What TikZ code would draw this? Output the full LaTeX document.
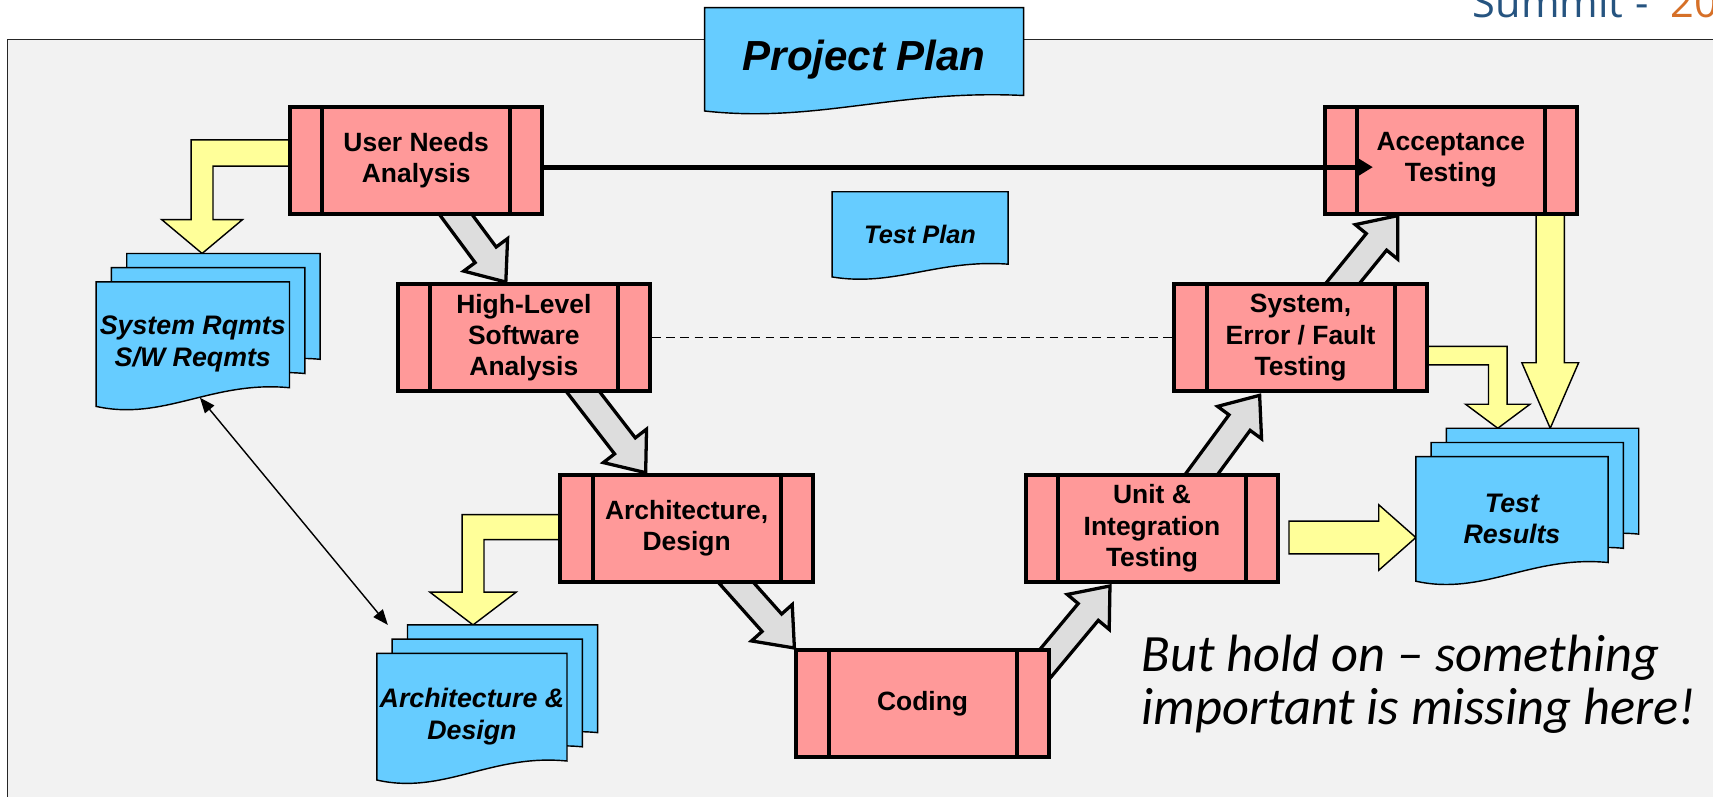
\documentclass[tikz,border=0pt]{standalone}
\usepackage{fontspec}
\setmainfont{Liberation Sans}
\newfontfamily\notefont{Carlito}
\newfontfamily\headfont{Open Sans}
\usetikzlibrary{calc,arrows.meta,backgrounds}

\definecolor{procred}{RGB}{255,153,153}
\definecolor{docblue}{RGB}{102,204,255}
\definecolor{fatyellow}{RGB}{255,255,153}
\definecolor{fatgray}{RGB}{221,221,221}
\definecolor{panelgray}{RGB}{242,242,242}
\definecolor{summitblue}{RGB}{38,84,128}
\definecolor{summitorange}{RGB}{214,112,40}

\tikzset{
	proc/.style={draw, line width=3.7pt, fill=procred, minimum width=231, minimum height=98,
		inner sep=2pt, align=center, font=\bfseries\fontsize{24.2}{28.5}\selectfont,
		path picture={\draw[line width=3.7pt]
			($(path picture bounding box.north west)+(29.5,0)$) -- ($(path picture bounding box.south west)+(29.5,0)$)
			($(path picture bounding box.north east)+(-29.5,0)$) -- ($(path picture bounding box.south east)+(-29.5,0)$);}},
	doctext/.style={inner sep=0, outer sep=0, align=center, font=\bfseries\itshape\fontsize{24.5}{29}\selectfont},
	docline/.style={draw=black, line width=1.3pt, fill=docblue},
	grayarrow/.style={draw=black, line width=3pt, fill=fatgray, line join=miter},
	yellowarrow/.style={draw=black, line width=1.3pt, fill=fatyellow, line join=miter}
}

% one sheet with a wavy bottom, shifted right/up behind the node
\newcommand{\docsheet}[3]{%
	\draw[docline] let \p1=($(#1.north west)+(#2,-#3)$), \p2=($(#1.south east)+(#2,-#3)$),
		\n1={\x2-\x1}, \n2={\y1-\y2} in
		(\x1,\y1) -- (\x2,\y1) -- (\x2,{\y2+0.15*\n2})
		.. controls ({\x1+0.6*\n1},{\y2+0.21*\n2}) and ({\x1+0.35*\n1},{\y2-0.12*\n2}) .. (\x1,\y2) -- cycle;}
\newcommand{\docstack}[1]{\docsheet{#1}{28}{26}\docsheet{#1}{14}{13}\docsheet{#1}{0}{0}}

% block arrow: tail, tip, half shaft, half head, head length
\newcommand{\fatarrow}[6][]{%
	\coordinate (tail) at (#2);
	\coordinate (tip) at (#3);
	\coordinate (neck) at ($(tip)!#6!(tail)$);
	\draw[#1] ($(tail)!#4!90:(tip)$) -- ($(neck)!#4!90:(tip)$) -- ($(neck)!#5!90:(tip)$)
		-- (tip) -- ($(neck)!#5!-90:(tip)$) -- ($(neck)!#4!-90:(tip)$) -- ($(tail)!#4!-90:(tip)$) -- cycle;}

\begin{document}
\begin{tikzpicture}[x=1pt, y=-1pt]
	\useasboundingbox (0,0) rectangle (1568,729);
	\begin{scope}[on background layer]
		\fill[white] (0,0) rectangle (1568,729);
		\draw[line width=1.5pt, draw=black!85, fill=panelgray] (7,36) rectangle (1600,760);
	\end{scope}
	
	\node[anchor=base west, inner sep=0, text=summitblue, font=\headfont\fontsize{38}{40}\selectfont] (summit) at (1348,16)
		{Summit\hspace{11pt}-\hspace{20pt}\textcolor{summitorange}{20}};
	
	% process steps
	\draw (381,146.5) node[proc] (una) {User Needs\\Analysis};
	\draw node[proc, right of=una, node distance=947] (acc) {Acceptance\\Testing};
	\draw (479.5,309) node[proc] (hlsa) {High-Level\\Software\\Analysis};
	\draw node[proc, right of=hlsa, node distance=711] (sys) {System,\\Error / Fault\\Testing};
	\draw (628.5,483.5) node[proc] (arch) {Architecture,\\Design};
	\draw node[proc, right of=arch, node distance=426] (unit) {Unit \&\\Integration\\Testing};
	\draw (844.5,644) node[proc] (coding) {Coding};
	
	% documents
	\node[doctext, minimum width=292, minimum height=94.6, font=\bfseries\itshape\fontsize{38.5}{44}\selectfont] (projplan) at (791,54.3) {Project Plan};
	\node[doctext, minimum width=161, minimum height=78, font=\bfseries\itshape\fontsize{23.2}{28}\selectfont] (testplan) at (842.2,214.5) {Test Plan};
	\node[doctext, minimum width=177, minimum height=114] (sysreq) at (176.5,315) {System Rqmts\\S/W Reqmts};
	\node[doctext, minimum width=174, minimum height=116] (archdoc) at (432,656) {Architecture \&\\Design};
	\node[doctext, minimum width=176, minimum height=114] (results) at (1384,475) {Test\\Results};
	
	\coordinate (sysreq-in) at ($(sysreq.north)+(8.5,-26)$);
	\coordinate (archdoc-in) at ($(archdoc.north)+(1,-26)$);
	\coordinate (results-sys) at ($(results.north)+(-13,-26)$);
	\coordinate (results-acc) at ($(results.north)+(35,-26)$);
	\coordinate (results-unit) at ($(results.west)+(0,17)$);
	
	\begin{scope}[on background layer]
		% the V
		\fatarrow[grayarrow]{$(una.south)+(31,-8)$}{$(hlsa.north)+(-16.5,0)$}{12pt}{25pt}{31pt}
		\fatarrow[grayarrow]{$(hlsa.south)+(49,-8)$}{$(arch.north)+(-37.5,0)$}{12pt}{25pt}{31pt}
		\fatarrow[grayarrow]{$(arch.south)+(39.5,-7.5)$}{coding.north west}{12pt}{25pt}{31pt}
		\fatarrow[grayarrow]{$(coding.east)+(-9,-32)$}{$(unit.south)+(-38.5,2)$}{12pt}{25pt}{31pt}
		\fatarrow[grayarrow]{$(unit.north)+(40.5,8)$}{$(sys.south)+(-37.5,2)$}{12pt}{25pt}{31pt}
		\fatarrow[grayarrow]{$(sys.north)+(33,8)$}{$(acc.south)+(-48.5,0)$}{12pt}{25pt}{31pt}
		
		% outputs
		\draw[yellowarrow] ($(una.west)+(10,-18.5)$) -| ($(sysreq-in)+(-10,-31)$) -- ++(-27,0) -- (sysreq-in)
			-- ++(37,-31) -- ++(-27,0) |- ($(una.west)+(10,5.5)$) -- cycle;
		\draw[yellowarrow] ($(arch.west)+(10,-12.5)$) -| ($(archdoc-in)+(-10,-30)$) -- ++(-29.5,0) -- (archdoc-in)
			-- ++(39.5,-30) -- ++(-29.5,0) |- ($(arch.west)+(10,10.5)$) -- cycle;
		\draw[yellowarrow] ($(sys.east)+(-10,8)$) -| ($(results-sys)+(8.5,-22)$) -- ++(21,0) -- (results-sys)
			-- ++(-29.5,-22) -- ++(21,0) |- ($(sys.east)+(-10,25)$) -- cycle;
		\fatarrow[yellowarrow]{$(results-acc |- acc.south)+(0,-6)$}{results-acc}{13pt}{26pt}{60pt}
		\fatarrow[yellowarrow]{$(unit.east)+(8,8.5)$}{results-unit}{15pt}{30pt}{34pt}
		
		\docsheet{projplan}{0}{0}
		\docsheet{testplan}{0}{0}
		\docstack{sysreq}
		\docstack{archdoc}
		\docstack{results}
	\end{scope}
	
	\draw[line width=4.5pt, -{Triangle[length=14pt,width=16pt]}] ($(una.east)+(0,6.5)$) -- ($(acc.west)+(46,6.5)$);
	\draw[line width=1.5pt, dash pattern=on 8pt off 5pt] (hlsa.east) -- (hlsa.east -| sys.west);
	\draw[line width=1.3pt, {Triangle[length=14pt,width=11pt]}-{Triangle[length=14pt,width=11pt]}]
		($(sysreq.south)+(6.5,-8)$) -- ($(archdoc.north west)+(10,-26)$);
	
	% base is the last line here
	\node[anchor=base west, align=left, inner sep=0, font=\notefont\itshape\fontsize{48}{48}\selectfont] (note) at (1045,663)
		{But hold on – something\\important is missing here!};
\end{tikzpicture}
\end{document}
